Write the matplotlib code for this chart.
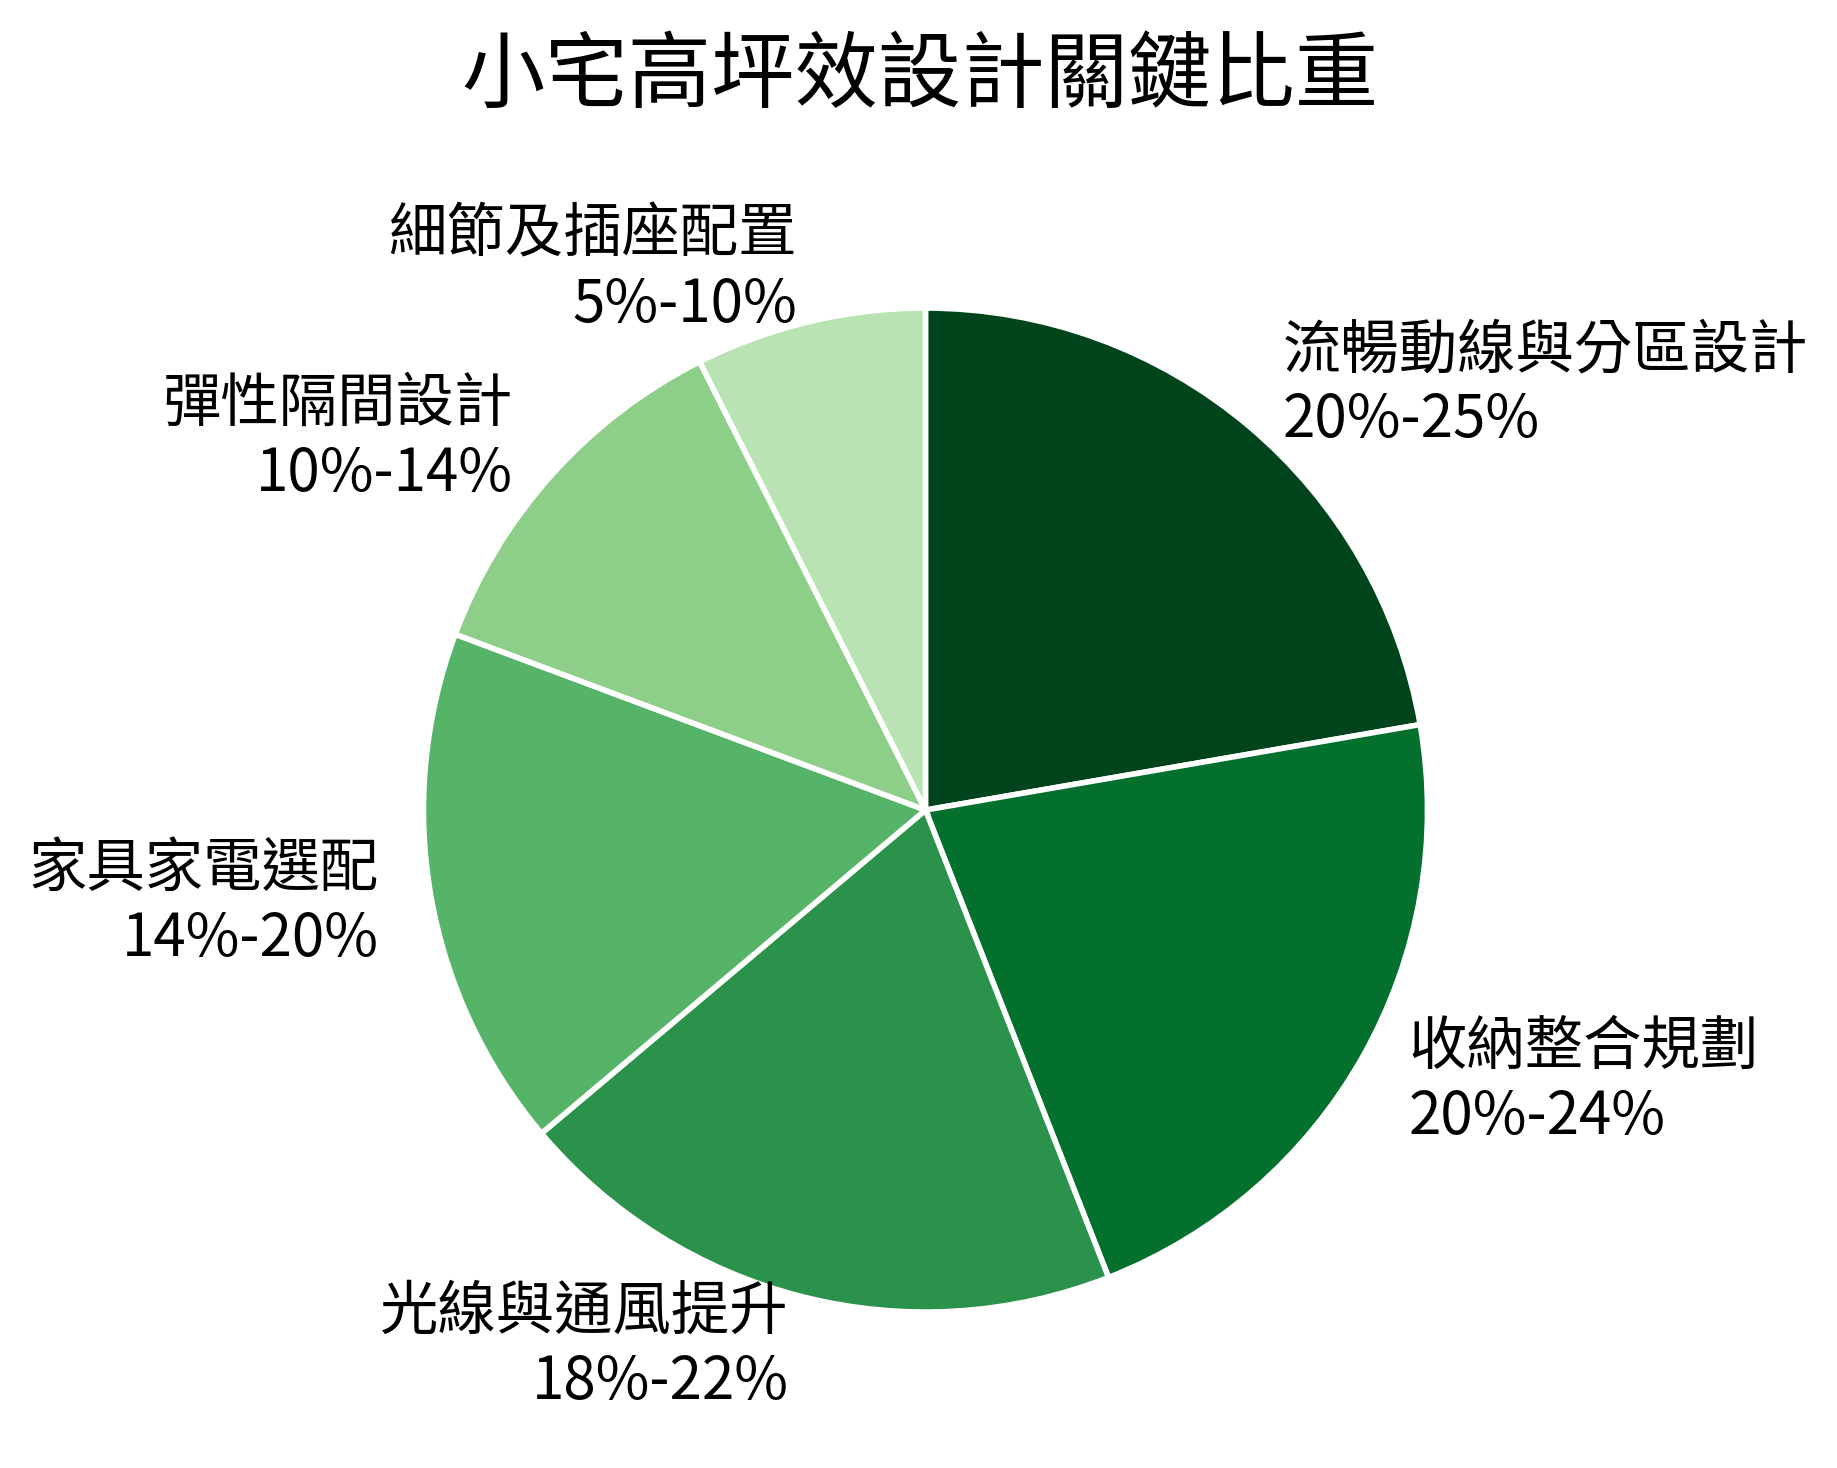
import matplotlib
matplotlib.use('Agg')
import matplotlib.pyplot as plt

plt.rcParams['font.family'] = ['Noto Sans CJK TC', 'DejaVu Sans']

categories = ['流暢動線與分區設計', '收納整合規劃', '光線與通風提升',
              '家具家電選配', '彈性隔間設計', '細節及插座配置']
ranges = ['20%-25%', '20%-24%', '18%-22%', '14%-20%', '10%-14%', '5%-10%']
values = [22.5, 22, 20, 17, 12, 7.5]
colors = ['#00441b', '#03702e', '#2b924b', '#55b467', '#8dcf89', '#b9e3b3']

labels = [f'{c}\n{r}' for c, r in zip(categories, ranges)]

fig = plt.figure(figsize=(18.37, 14.68), dpi=100)
ax = fig.add_axes([0.2316, 0.1076, 0.5444, 0.6812])

wedges, texts = ax.pie(values, labels=labels, colors=colors, startangle=90,
                       counterclock=False, labeldistance=1.105, radius=1.004,
                       wedgeprops={'edgecolor': 'white', 'linewidth': 4},
                       textprops={'fontsize': 42})
ax.set_xlim(-1.0, 1.0)
ax.set_ylim(-1.0, 1.0)
ax.set_aspect('equal')

fig.text(0.501, 0.948, '小宅高坪效設計關鍵比重', ha='center', va='center', fontsize=60)

fig.savefig('out.png', dpi=100, facecolor='white')
